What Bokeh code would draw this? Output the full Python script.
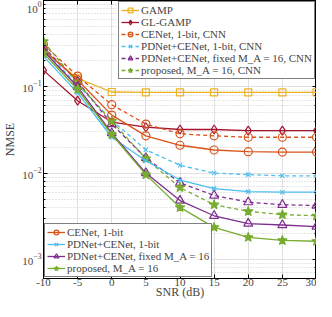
from bokeh.plotting import figure
from bokeh.models import Legend, LegendItem, LinearAxis, LogAxis, Range1d, FixedTicker
from bokeh.embed import file_html
from bokeh.resources import INLINE

snr = [-10, -5, 0, 5, 10, 15, 20, 25, 30]
gamp = [0.26, 0.125, 0.087, 0.086, 0.086, 0.086, 0.086, 0.086, 0.086]
gl_gamp = [0.155, 0.069, 0.039, 0.034, 0.032, 0.032, 0.031, 0.031, 0.031]
cenet_cnn = [0.31, 0.133, 0.062, 0.037, 0.0285, 0.027, 0.026, 0.026, 0.026]
pdnet_cnn = [0.27, 0.105, 0.041, 0.0186, 0.0123, 0.0100, 0.0096, 0.0093, 0.0093]
fixed_cnn = [0.29, 0.115, 0.037, 0.015, 0.0077, 0.0055, 0.0046, 0.0043, 0.0042]
proposed_cnn = [0.335, 0.11, 0.040, 0.0147, 0.0068, 0.0043, 0.0036, 0.0033, 0.0032]
cenet = [0.27, 0.12, 0.047, 0.027, 0.021, 0.0185, 0.0177, 0.0175, 0.0175]
pdnet = [0.225, 0.085, 0.026, 0.0139, 0.0083, 0.0066, 0.0061, 0.0060, 0.0060]
fixed = [0.26, 0.1, 0.029, 0.0100, 0.0048, 0.0032, 0.0026, 0.0025, 0.0024]
proposed = [0.245, 0.093, 0.028, 0.0096, 0.0040, 0.00235, 0.0018, 0.00166, 0.00162]

x_tick_labels = ["-10", "-5", "0", "5", "10", "15", "20", "25", "30"]
x_label = "SNR (dB)"
y_label = "NMSE"
labels_top = ["GAMP", "GL-GAMP", "CENet, 1-bit, CNN", "PDNet+CENet, 1-bit, CNN",
              "PDNet+CENet, fixed M_A = 16, CNN", "proposed, M_A = 16, CNN"]
labels_bot = ["CENet, 1-bit", "PDNet+CENet, 1-bit", "PDNet+CENet, fixed M_A = 16",
              "proposed, M_A = 16"]

YELLOW = "#EDB120"
RED = "#A2142F"
ORANGE = "#D95319"
CYAN = "#4DBEEE"
PURPLE = "#7E2F8E"
GREEN = "#77AC30"
FONT = "Liberation Serif"

p = figure(width=316, height=301, x_axis_type="linear", y_axis_type="log",
           x_range=Range1d(-10, 30), y_range=Range1d(6e-4, 1.0),
           output_backend="svg", toolbar_location=None,
           min_border_left=2, min_border_right=0, min_border_top=0, min_border_bottom=0)

p.outline_line_color = "black"
p.outline_line_width = 1

def series(y, color, marker, dash, size, fill=False):
    lr = p.line(snr, y, line_color=color, line_width=1.3, line_dash=dash)
    sr = p.scatter(snr, y, marker=marker, size=size, line_color=color,
                   fill_color=color if fill else None, line_width=1.2)
    return [lr, sr]

r_gamp = series(gamp, YELLOW, "square", "solid", 7)
r_gl = series(gl_gamp, RED, "diamond", "solid", 9)
r_cen_c = series(cenet_cnn, ORANGE, "circle", "4 3", 8)
r_pd_c = series(pdnet_cnn, CYAN, "x", "4 3", 6)
r_fx_c = series(fixed_cnn, PURPLE, "triangle", "4 3", 9)
r_pr_c = series(proposed_cnn, GREEN, "star", "4 3", 10, fill=True)
r_cen = series(cenet, ORANGE, "circle", "solid", 8)
r_pd = series(pdnet, CYAN, "x", "solid", 6)
r_fx = series(fixed, PURPLE, "triangle", "solid", 9)
r_pr = series(proposed, GREEN, "star", "solid", 10, fill=True)

def make_legend(labels, rends, loc):
    items = [LegendItem(label=l, renderers=r) for l, r in zip(labels, rends)]
    lg = Legend(items=items, location=loc)
    lg.label_text_font = FONT
    lg.label_text_font_size = "11px"
    lg.label_height = 12
    lg.glyph_height = 12
    lg.glyph_width = 18
    lg.label_standoff = 2
    lg.spacing = 0
    lg.padding = 2
    lg.margin = 1
    lg.border_line_color = "black"
    lg.border_line_width = 1.2
    lg.background_fill_color = "white"
    lg.background_fill_alpha = 1.0
    return lg

p.add_layout(make_legend(labels_top, [r_gamp, r_gl, r_cen_c, r_pd_c, r_fx_c, r_pr_c], "top_right"))
p.add_layout(make_legend(labels_bot, [r_cen, r_pd, r_fx, r_pr], "bottom_left"))

# grids
p.xgrid.ticker = FixedTicker(ticks=snr)
p.xgrid.grid_line_color = "#e0e0e0"
p.ygrid.grid_line_color = "#e0e0e0"
p.ygrid.minor_grid_line_color = "#cccccc"
p.ygrid.minor_grid_line_dash = "1 2"

for ax in p.xaxis:
    ax.ticker = FixedTicker(ticks=snr)
    ax.major_label_overrides = {t: s for t, s in zip(snr, x_tick_labels)}
for ax in list(p.xaxis) + list(p.yaxis):
    ax.major_tick_in = 4
    ax.major_tick_out = 0
    ax.minor_tick_in = 2
    ax.minor_tick_out = 0
    ax.axis_line_color = "black"
    ax.major_label_text_font = FONT
    ax.major_label_text_font_size = "11px"
    ax.axis_label_text_font = FONT
    ax.axis_label_text_font_size = "12px"
    ax.axis_label_text_font_style = "normal"
    ax.major_label_standoff = 2
p.xaxis.minor_tick_line_color = None
p.xaxis.major_label_standoff = 0
p.xaxis.axis_label = x_label
p.xaxis.axis_label_standoff = -4
p.yaxis.axis_label = y_label
p.yaxis.axis_label_standoff = 2

top = LinearAxis(ticker=FixedTicker(ticks=snr), major_label_text_font_size="1px",
                 major_label_text_alpha=0, major_tick_in=4, major_tick_out=0,
                 minor_tick_line_color=None, major_label_standoff=0)
right = LogAxis(major_label_text_font_size="1px", major_label_text_alpha=0,
                major_tick_in=4, major_tick_out=0,
                minor_tick_in=2, minor_tick_out=0, major_label_standoff=0)
p.add_layout(top, "above")
p.add_layout(right, "right")

open("out.html", "w").write(file_html(p, INLINE))
